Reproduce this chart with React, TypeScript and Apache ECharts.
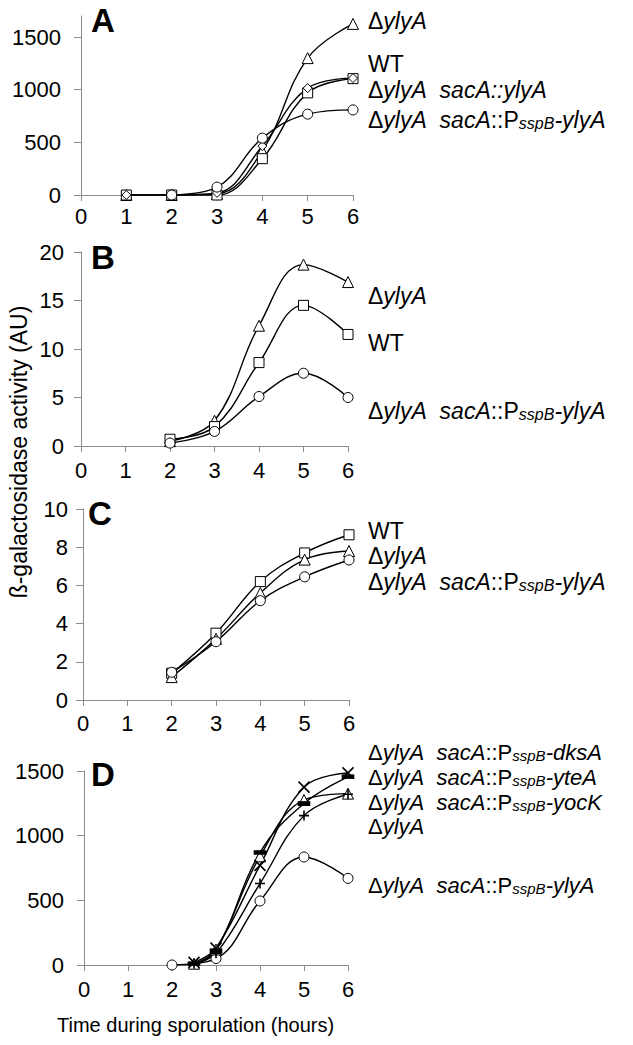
import React, { useEffect, useRef } from "react";
import * as echarts from "echarts";

// ---------- data ----------
const X_TICKS = [0, 1, 2, 3, 4, 5, 6];

// Panel A
const A_X = [1, 2, 3, 4, 5, 6];
const A_DYLYA = [0, 0, 10, 420, 1300, 1625];
const A_WT = [0, 0, 0, 345, 970, 1105];
const A_COMP = [0, 0, 20, 465, 1015, 1110];
const A_P_X = [2, 3, 4, 5, 6];
const A_PSSPB = [0, 75, 540, 768, 808];
const A_Y_TICKS = [0, 500, 1000, 1500];

// Panel B
const B_X = [2, 3, 4, 5, 6];
const B_DYLYA = [0.5, 2.6, 12.4, 18.7, 16.9];
const B_WT = [0.7, 2.0, 8.6, 14.5, 11.5];
const B_PSSPB = [0.3, 1.5, 5.1, 7.5, 5.0];
const B_Y_TICKS = [0, 5, 10, 15, 20];

// Panel C
const C_X = [2, 3, 4, 5, 6];
const C_WT = [1.4, 3.5, 6.2, 7.7, 8.65];
const C_DYLYA = [1.2, 3.2, 5.6, 7.35, 7.8];
const C_PSSPB = [1.45, 3.05, 5.2, 6.45, 7.33];
const C_Y_TICKS = [0, 2, 4, 6, 8, 10];

// Panel D
const D_X = [2.5, 3, 4, 5, 6];
const D_DKSA = [20, 130, 770, 1375, 1485];
const D_YTEA = [10, 110, 870, 1248, 1455];
const D_YOCK = [10, 90, 630, 1155, 1320];
const D_DYLYA = [10, 120, 840, 1276, 1325];
const D_P_X = [2, 3, 4, 5, 6];
const D_PSSPB = [0, 50, 495, 835, 670];
const D_Y_TICKS = [0, 500, 1000, 1500];

const FONT = "'Liberation Sans', Arial, sans-serif";

const pts = (xs: number[], ys: number[]) => xs.map((x, i) => [x, ys[i]]);

const SYM_X = "path://M0,0L10,10M10,0L0,10";
const SYM_PLUS = "path://M5,0L5,10M0,5L10,5";
const SYM_DASH = "path://M0,0L10,0L10,3L0,3Z";

function lineSeries(k: number, data: number[][], symbol: string, size: any, opts: any = {}) {
  return {
    type: "line",
    xAxisIndex: k,
    yAxisIndex: k,
    data,
    smooth: 0.4,
    symbol,
    symbolSize: size,
    showAllSymbol: true,
    silent: true,
    lineStyle: { color: "#000", width: 1.4 },
    itemStyle: { color: opts.fill || "#fff", borderColor: "#000", borderWidth: opts.bw || 1 },
    emphasis: { disabled: true },
  };
}

function makeRich(size: number) {
  const sub = Math.round(size * 0.7);
  return {
    i: { fontStyle: "italic", fontSize: size, fontFamily: FONT, fill: "#000", verticalAlign: "bottom", lineHeight: 20 },
    n: { fontSize: size, fontFamily: FONT, fill: "#000", verticalAlign: "bottom", lineHeight: 20 },
    s: { fontStyle: "italic", fontSize: sub, fontFamily: FONT, fill: "#000", verticalAlign: "bottom", lineHeight: 18 },
  };
}

function label(x: number, y: number, text: string, size = 23) {
  return {
    type: "text",
    x,
    y,
    silent: true,
    style: { text, rich: makeRich(size), align: "left", verticalAlign: "middle", fill: "#000", font: `${size}px ${FONT}` },
  };
}

const L_DYLYA = "{n|Δ}{i|ylyA}";
const L_WT = "{n|WT}";
const L_COMP = "{n|Δ}{i|ylyA}  {i|sacA::ylyA}";
const lP = (gene: string) => `{n|Δ}{i|ylyA}  {i|sacA}{n|::P}{s|sspB}{i|-${gene}}`;

function letter(x: number, y: number, t: string) {
  return {
    type: "text",
    x,
    y,
    silent: true,
    style: { text: t, align: "left", verticalAlign: "middle", fill: "#000", font: `bold 33px ${FONT}` },
  };
}

const GRIDS = [
  { left: 81, top: 16, width: 272, height: 179 },
  { left: 81, top: 252, width: 267, height: 194 },
  { left: 83, top: 509, width: 266, height: 191 },
  { left: 84, top: 771, width: 264, height: 194 },
];
const Y_MAX = [1700, 20, 10, 1500];
const Y_TICKS = [A_Y_TICKS, B_Y_TICKS, C_Y_TICKS, D_Y_TICKS];
const Y_MARGIN = [20, 17, 15, 20];
const X_MARGIN = [10, 13, 12, 13];

export default function App() {
  const ref = useRef<HTMLDivElement>(null);
  useEffect(() => {
    document.body.style.margin = "0";
    const chart = echarts.init(ref.current!, null, { renderer: "svg" });
    const axisColor = "#8c8c8c";
    const option: any = {
      animation: false,
      backgroundColor: "#fff",
      grid: GRIDS,
      xAxis: GRIDS.map((_, k) => ({
        type: "value",
        gridIndex: k,
        min: 0,
        max: 6,
        interval: 1,
        axisLine: { show: true, onZero: false, lineStyle: { color: axisColor, width: 1 } },
        axisTick: { show: true, length: 6, lineStyle: { color: axisColor }, customValues: X_TICKS },
        axisLabel: {
          color: "#000",
          fontSize: 22,
          fontFamily: FONT,
          margin: X_MARGIN[k],
          customValues: X_TICKS,
          formatter: (v: number) => String(v),
        },
        splitLine: { show: false },
      })),
      yAxis: GRIDS.map((_, k) => ({
        type: "value",
        gridIndex: k,
        min: 0,
        max: Y_MAX[k],
        axisLine: { show: true, lineStyle: { color: axisColor, width: 1 } },
        axisTick: { show: true, length: 7, lineStyle: { color: axisColor }, customValues: Y_TICKS[k] },
        axisLabel: {
          color: "#000",
          fontSize: 22,
          fontFamily: FONT,
          margin: Y_MARGIN[k],
          customValues: Y_TICKS[k],
          formatter: (v: number) => String(v),
        },
        splitLine: { show: false },
      })),
      series: [
        // A
        lineSeries(0, pts(A_X, A_DYLYA), "triangle", 11),
        lineSeries(0, pts(A_X, A_WT), "rect", 10),
        lineSeries(0, pts(A_X, A_COMP), "diamond", 9),
        lineSeries(0, pts(A_P_X, A_PSSPB), "circle", 10),
        // B
        lineSeries(1, pts(B_X, B_DYLYA), "triangle", 11),
        lineSeries(1, pts(B_X, B_WT), "rect", 10),
        lineSeries(1, pts(B_X, B_PSSPB), "circle", 10),
        // C
        lineSeries(2, pts(C_X, C_WT), "rect", 10),
        lineSeries(2, pts(C_X, C_DYLYA), "triangle", 11),
        lineSeries(2, pts(C_X, C_PSSPB), "circle", 10),
        // D
        lineSeries(3, pts(D_P_X, D_PSSPB), "circle", 10),
        lineSeries(3, pts(D_X, D_DYLYA), "triangle", 11),
        lineSeries(3, pts(D_X, D_YOCK), SYM_PLUS, 10, { bw: 1.6 }),
        lineSeries(3, pts(D_X, D_YTEA), SYM_DASH, [11, 4], { fill: "#000" }),
        lineSeries(3, pts(D_X, D_DKSA), SYM_X, 11, { bw: 1.6 }),
      ],
      graphic: [
        letter(91, 20, "A"),
        letter(91, 257, "B"),
        letter(88, 513, "C"),
        letter(91, 774, "D"),
        // A labels
        label(368, 22, L_DYLYA),
        label(368, 65, L_WT),
        label(368, 90, L_COMP),
        label(368, 120, lP("ylyA")),
        // B labels
        label(368, 297, L_DYLYA),
        label(368, 344, L_WT),
        label(368, 411, lP("ylyA")),
        // C labels
        label(368, 532, L_WT),
        label(368, 557, L_DYLYA),
        label(368, 582, lP("ylyA")),
        // D labels
        label(368, 752, lP("dksA"), 22),
        label(368, 777, lP("yteA"), 22),
        label(368, 802, lP("yocK"), 22),
        label(368, 827, L_DYLYA, 22),
        label(368, 885, lP("ylyA"), 22),
        // axis titles
        {
          type: "text",
          x: 19,
          y: 452,
          rotation: Math.PI / 2,
          silent: true,
          style: { text: "ß-galactosidase activity (AU)", align: "center", verticalAlign: "middle", fill: "#000", font: `23px ${FONT}` },
        },
        {
          type: "text",
          x: 57,
          y: 1025,
          silent: true,
          style: { text: "Time during sporulation (hours)", align: "left", verticalAlign: "middle", fill: "#000", font: `20px ${FONT}` },
        },
      ],
    };
    chart.setOption(option);
    return () => chart.dispose();
  }, []);
  return <div ref={ref} style={{ width: 633, height: 1045 }} />;
}
